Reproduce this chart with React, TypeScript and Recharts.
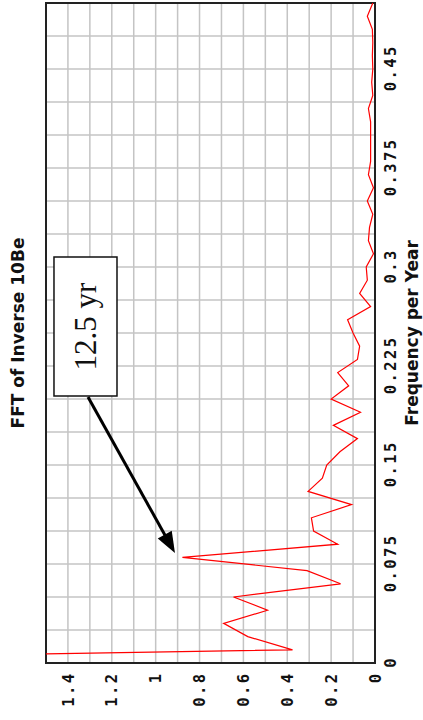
import {
  LineChart,
  Line,
  XAxis,
  YAxis,
  CartesianGrid,
  ReferenceArea,
  ReferenceLine,
} from "recharts";

// frequency bins (cycles per year) and FFT magnitude
const frequency = [
  0, 0.01, 0.02, 0.03, 0.04, 0.05, 0.06, 0.07, 0.08, 0.09,
  0.1, 0.11, 0.12, 0.13, 0.14, 0.15, 0.16, 0.17, 0.18, 0.19,
  0.2, 0.21, 0.22, 0.23, 0.24, 0.25, 0.26, 0.27, 0.28, 0.29,
  0.3, 0.31, 0.32, 0.33, 0.34, 0.35, 0.36, 0.37, 0.38, 0.39,
  0.4, 0.41, 0.42, 0.43, 0.44, 0.45, 0.46, 0.47, 0.48, 0.49, 0.5,
];
const magnitude = [
  4.0, 0.376, 0.58, 0.69, 0.49, 0.645, 0.157, 0.31, 0.878, 0.17,
  0.28, 0.29, 0.107, 0.305, 0.24, 0.22, 0.16, 0.08, 0.19, 0.066,
  0.2, 0.12, 0.17, 0.08, 0.07, 0.1, 0.125, 0.02, 0.07, 0.035,
  0.04, 0.007, 0.03, 0.025, 0.01, 0.035, 0.007, 0.03, 0.02, 0.02,
  0.02, 0.02, 0.03, 0.01, 0.015, 0.01, 0.012, 0.01, 0.012, 0.035, 0.01,
];

const freqTicks = [0, 0.075, 0.15, 0.225, 0.3, 0.375, 0.45];
const magTicks = [0, 0.2, 0.4, 0.6, 0.8, 1, 1.2, 1.4];
const freqGrid = [
  0.025, 0.05, 0.075, 0.1, 0.125, 0.15, 0.175, 0.2, 0.225, 0.25,
  0.275, 0.3, 0.325, 0.35, 0.375, 0.4, 0.425, 0.45, 0.475,
];
const magGrid = [0.1, 0.2, 0.3, 0.4, 0.5, 0.6, 0.7, 0.8, 0.9, 1, 1.1, 1.2, 1.3, 1.4];

// annotation: "12.5 yr" box and arrow to the 0.08 peak
const noteBox = { x1: 0.2023, x2: 0.3076, y1: 1.1763, y2: 1.4636 };
const arrowFrom = { x: 0.2015, y: 1.3085 };
const arrowTo = { x: 0.0833, y: 0.912 };

const chartData = frequency.map((f, i) => ({ f, v: magnitude[i] }));

const SPACING = 2.4;

// eslint-disable-next-line @typescript-eslint/no-explicit-any
function FreqTick({ x, y, payload }: any) {
  return (
    <text
      x={x + SPACING / 2}
      y={y}
      dy="0.72em"
      textAnchor="middle"
      fill="#111"
      fontSize={15.5}
      fontFamily="DejaVu Sans Mono"
      fontWeight="bold"
      style={{ letterSpacing: SPACING }}
    >
      {String(payload.value)}
    </text>
  );
}

// eslint-disable-next-line @typescript-eslint/no-explicit-any
function MagTick({ x, y, payload }: any) {
  return (
    <text
      x={x + SPACING}
      y={y}
      dy="0.36em"
      textAnchor="end"
      fill="#111"
      fontSize={15.5}
      fontFamily="DejaVu Sans Mono"
      fontWeight="bold"
      style={{ letterSpacing: SPACING }}
    >
      {String(payload.value)}
    </text>
  );
}

// eslint-disable-next-line @typescript-eslint/no-explicit-any
function ArrowShape(props: any) {
  const { x1, y1, x2, y2 } = props;
  const dx = x2 - x1;
  const dy = y2 - y1;
  const len = Math.hypot(dx, dy) || 1;
  const ux = dx / len;
  const uy = dy / len;
  const head = 21;
  const half = 8;
  const bx = x2 - ux * head;
  const by = y2 - uy * head;
  const pts = `${x2},${y2} ${bx - uy * half},${by + ux * half} ${bx + uy * half},${by - ux * half}`;
  return (
    <g>
      <line x1={x1} y1={y1} x2={bx + ux * 2} y2={by + uy * 2} stroke="#000" strokeWidth={3} />
      <polygon points={pts} fill="#000" />
    </g>
  );
}

const labelStyle = {
  position: "absolute" as const,
  left: 187,
  width: 400,
  textAlign: "center" as const,
  fontFamily: "DejaVu Sans",
  fontWeight: "bold",
  fontSize: 17,
  lineHeight: "20px",
  color: "#111",
};

export default function App() {
  return (
    <div
      style={{
        position: "absolute",
        left: 0,
        top: 0,
        width: 423,
        height: 720,
        overflow: "hidden",
        background: "#fff",
      }}
    >
      <div
        style={{
          position: "absolute",
          left: 0,
          top: 0,
          width: 720,
          height: 423,
          transformOrigin: "0 0",
          transform: "translate(0px, 720px) rotate(-90deg)",
        }}
      >
        <div style={{ ...labelStyle, top: 8 }}>FFT of Inverse 10Be</div>
        <LineChart
          width={720}
          height={423}
          data={chartData}
          margin={{ top: 46, right: 3, bottom: 0, left: 10 }}
        >
          <CartesianGrid
            stroke="#c4c4c4"
            strokeWidth={1.5}
            verticalValues={freqGrid}
            horizontalValues={magGrid}
          />
          <XAxis
            dataKey="f"
            type="number"
            domain={[0, 0.5]}
            ticks={freqTicks}
            tick={<FreqTick />}
            axisLine={false}
            tickLine={false}
            tickMargin={4}
            height={48}
            interval={0}
          />
          <YAxis
            type="number"
            domain={[0, 1.5]}
            ticks={magTicks}
            tick={<MagTick />}
            axisLine={false}
            tickLine={false}
            tickMargin={5}
            width={47}
            interval={0}
            allowDataOverflow
          />
          <Line
            dataKey="v"
            stroke="#ff0000"
            strokeWidth={1.2}
            dot={false}
            activeDot={false}
            isAnimationActive={false}
          />
          <ReferenceArea
            x1={0}
            x2={0.5}
            y1={0}
            y2={1.5}
            fill="none"
            fillOpacity={0}
            stroke="#222"
            strokeWidth={2}
          />
          <ReferenceArea
            x1={noteBox.x1}
            x2={noteBox.x2}
            y1={noteBox.y1}
            y2={noteBox.y2}
            fill="#fff"
            fillOpacity={1}
            stroke="#111"
            strokeWidth={1.5}
            label={{
              value: "12.5 yr",
              position: "center",
              fill: "#111",
              fontSize: 31,
              fontFamily: "Liberation Serif",
            }}
          />
          <ReferenceLine
            segment={[arrowFrom, arrowTo]}
            stroke="#000"
            shape={ArrowShape}
          />
        </LineChart>
        <div style={{ ...labelStyle, top: 402 }}>Frequency per Year</div>
      </div>
    </div>
  );
}
